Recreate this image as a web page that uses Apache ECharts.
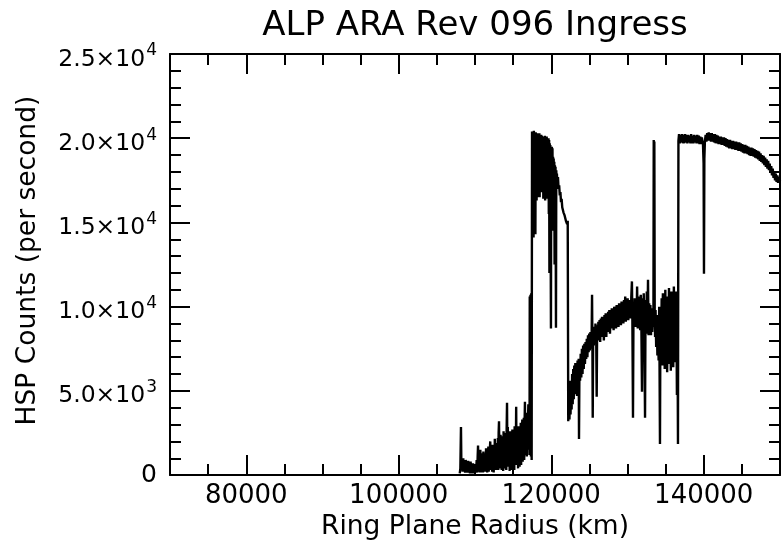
<!DOCTYPE html>
<html>
<head>
<meta charset="utf-8">
<script src="https://cdn.jsdelivr.net/npm/echarts@6/dist/echarts.min.js"></script>
<style>
  html, body { margin: 0; padding: 0; background: #fff; }
  #chart { width: 782px; height: 546px; }
</style>
</head>
<body>
<div id="chart"></div>
<script>
// ---- data (Ring Plane Radius km, HSP counts per second) ----
const titleText = 'ALP ARA Rev 096 Ingress';
const xAxisTitle = 'Ring Plane Radius (km)';
const yAxisTitle = 'HSP Counts (per second)';
const xMajorTicks = [80000, 100000, 120000, 140000];
const yTicks = [0, 5000, 10000, 15000, 20000, 25000];

const innerNoise = [
  [108000, 100], [108080, 400], [108160, 2860], [108220, 300], [108300, 900], [108380, 200],
  [108460, 1000], [108540, 300], [108620, 800], [108700, 150], [108780, 900], [108860, 250],
  [108940, 700], [109020, 150], [109100, 850], [109180, 200], [109260, 650], [109340, 100],
  [109420, 800], [109500, 250], [109580, 600], [109660, 100], [109740, 700], [109820, 200],
  [109900, 550], [109980, 100], [110060, 650], [110140, 200], [110220, 900], [110300, 150],
  [110350, 1100], [110400, 1750], [110450, 300], [110500, 900], [110550, 200], [110600, 1200],
  [110650, 150], [110700, 1500], [110750, 400], [110800, 1000], [110850, 150], [110900, 1300],
  [110950, 300], [111000, 1100], [111050, 150], [111100, 1400], [111150, 500], [111200, 1200],
  [111250, 200], [111300, 900], [111350, 1300], [111400, 200], [111450, 1600], [111500, 600],
  [111550, 1100], [111600, 150], [111650, 1400], [111700, 400], [111750, 1700], [111800, 200],
  [111850, 1200], [111900, 500], [111950, 1500], [112000, 2000], [112050, 300], [112100, 1600],
  [112150, 700], [112200, 1300], [112250, 200], [112300, 1800], [112350, 500], [112400, 1400],
  [112450, 150], [112500, 1700], [112550, 600], [112600, 2150], [112650, 300], [112700, 1500],
  [112750, 800], [112800, 1900], [112850, 300], [112900, 1600], [112950, 700], [113000, 2200],
  [113050, 300], [113100, 2500], [113150, 3200], [113200, 800], [113250, 2100], [113300, 400],
  [113350, 2400], [113400, 900], [113450, 1900], [113500, 300], [113550, 2300], [113600, 700],
  [113650, 2000], [113700, 250], [113750, 2600], [113800, 900], [113850, 1800], [113900, 400],
  [113950, 2500], [114000, 1000], [114050, 2200], [114100, 300], [114150, 2700], [114200, 4300],
  [114250, 800], [114300, 2850], [114350, 500], [114400, 2300], [114450, 1100], [114500, 2000],
  [114550, 250], [114600, 2600], [114650, 700], [114700, 2400], [114750, 300], [114800, 2100],
  [114850, 900], [114900, 2700], [114950, 400], [115000, 2300], [115050, 1000], [115100, 2500],
  [115150, 300], [115200, 2900], [115250, 800], [115300, 2600], [115350, 1200], [115400, 4050],
  [115450, 600], [115500, 2700], [115550, 1300], [115600, 2200], [115650, 400], [115700, 2900],
  [115750, 1100], [115800, 2400], [115850, 500], [115900, 2700], [115950, 1400], [116000, 3100],
  [116050, 600], [116100, 2600], [116150, 1500], [116200, 3300], [116250, 800], [116300, 2800],
  [116350, 1700], [116400, 3400], [116450, 900], [116500, 3000], [116550, 4350], [116600, 1200],
  [116650, 3100], [116700, 2000], [116750, 3500], [116800, 1100], [116850, 3700], [116900, 2200],
  [116950, 3300]
];

const bRingPeak = [
  [117000, 4200], [117050, 1500], [117100, 3800], [117150, 1200], [117180, 10600], [117230, 1500],
  [117280, 10700], [117330, 1100], [117380, 10800], [117430, 900], [117480, 20400], [117520, 15200],
  [117560, 20350], [117600, 14800], [117640, 20200], [117680, 14100], [117720, 20450], [117760, 15800],
  [117800, 20200], [117840, 16400], [117880, 20300], [117920, 14300], [117960, 20350], [118000, 16800],
  [118040, 20200], [118080, 16300], [118120, 20100], [118160, 17200], [118200, 20300], [118240, 16500],
  [118280, 20250], [118320, 16900], [118360, 20200], [118400, 17800], [118440, 20300], [118480, 16500],
  [118520, 20100], [118560, 17300], [118600, 20000], [118640, 18000], [118680, 20200], [118720, 16800],
  [118760, 20150], [118800, 17500], [118840, 20100], [118880, 18500], [118920, 20000], [118960, 16400],
  [119000, 19900], [119040, 17000], [119080, 20000], [119120, 18200], [119160, 20150], [119200, 16300],
  [119240, 20100], [119280, 17400], [119320, 20000], [119360, 17500], [119400, 20100], [119440, 16400],
  [119480, 19900], [119520, 17100], [119560, 19800], [119600, 17000], [119640, 20000], [119680, 15500],
  [119720, 19900], [119760, 12000], [119800, 19700], [119840, 16500], [119880, 19600], [119960, 8700],
  [120000, 19300], [120040, 15200], [120080, 19500], [120120, 14500], [120160, 19400], [120200, 16000],
  [120240, 18900], [120280, 15000], [120320, 18800], [120360, 16200], [120400, 18600], [120440, 12500],
  [120480, 18400], [120520, 15800], [120560, 18300], [120620, 8750], [120660, 18100], [120700, 17200],
  [120740, 17900], [120800, 17300], [120880, 17700], [120960, 17000], [121040, 17200], [121120, 16600],
  [121200, 16800], [121280, 16200], [121360, 16400], [121440, 15900], [121520, 16000], [121600, 15600],
  [121680, 15700], [121760, 15400], [121840, 15400], [121920, 15100], [122000, 15150], [122080, 14900],
  [122160, 15100], [122230, 3200]
];

const cassiniRamp = [
  [122320, 5200], [122390, 3300], [122460, 5600], [122530, 3600], [122600, 5400], [122670, 3900],
  [122740, 6000], [122810, 4200], [122880, 6300], [122950, 4500], [123020, 6500], [123090, 4800],
  [123160, 6650], [123230, 5000], [123300, 6400], [123380, 4700], [123450, 6800], [123530, 5300],
  [123600, 6900], [123640, 2150], [123700, 6600], [123780, 5600], [123860, 7200], [123940, 5800],
  [124020, 7500], [124100, 6000], [124180, 7700], [124260, 6300], [124340, 7800], [124420, 6600],
  [124500, 7900], [124580, 6900], [124660, 8100], [124740, 7000], [124820, 8300], [124900, 7300],
  [124980, 8400], [125060, 7400], [125140, 8500], [125220, 7500], [125300, 8400], [125350, 10700],
  [125400, 7600], [125440, 3400], [125500, 8600], [125580, 7700], [125660, 8800], [125740, 7900],
  [125800, 9000], [125900, 8000], [125960, 4650], [126020, 8900], [126100, 8000], [126180, 9100]
];

const aRingBand = [
  [126260, 8100], [126340, 9200], [126420, 7900], [126500, 9300], [126580, 8200], [126660, 9400],
  [126740, 8300], [126820, 9200], [126900, 8000], [126980, 9500], [127060, 8400], [127140, 9600],
  [127220, 8200], [127300, 9400], [127380, 8500], [127460, 9700], [127540, 8600], [127620, 9800],
  [127700, 8400], [127780, 9600], [127860, 8700], [127940, 9900], [128020, 8800], [128100, 9700],
  [128180, 8600], [128260, 10000], [128340, 8900], [128420, 9800], [128500, 8700], [128580, 10100],
  [128660, 9000], [128740, 9900], [128820, 8800], [128900, 10200], [128980, 9100], [129060, 10000],
  [129140, 8900], [129220, 10300], [129300, 9200], [129380, 10100], [129460, 9000], [129540, 10400],
  [129620, 9300], [129700, 10600], [129780, 9100], [129860, 10300], [129940, 9400], [130020, 10500],
  [130100, 9200], [130180, 10400], [130260, 9500], [130340, 10200], [130420, 9300], [130500, 10600],
  [130580, 11500], [130640, 9200], [130720, 3400], [130790, 10200], [130860, 9000], [130940, 10500],
  [131020, 8800], [131100, 10400], [131180, 9100], [131260, 11200], [131340, 8700], [131420, 10600],
  [131500, 9000], [131580, 10300], [131660, 8600], [131740, 10700], [131820, 8900], [131900, 4950],
  [131970, 10500], [132050, 8500], [132130, 10800], [132210, 8200], [132300, 3400], [132370, 10400],
  [132450, 8400], [132530, 10900], [132610, 8700], [132690, 11600], [132760, 8300], [132840, 10200],
  [132920, 8600], [133000, 10100], [133080, 8300], [133160, 9900], [133240, 8500], [133320, 9600],
  [133400, 8800], [133440, 19900], [133480, 12000], [133520, 19800], [133570, 9300], [133620, 8200],
  [133680, 9800], [133760, 7600], [133840, 9500], [133920, 7100], [134000, 9200], [134080, 6800],
  [134160, 10000], [134260, 1850], [134320, 9600], [134400, 7000], [134480, 10500], [134560, 6500],
  [134640, 10800], [134720, 7200], [134800, 10300], [134880, 6300], [134960, 11000], [135040, 6800],
  [135120, 10600], [135200, 6100], [135280, 10400], [135360, 7400], [135440, 11100], [135520, 6600],
  [135600, 10700], [135680, 6200], [135760, 10900], [135840, 7000], [135920, 10500], [136000, 6400],
  [136080, 11200], [136160, 7100], [136240, 10600], [136320, 6700], [136400, 10900], [136480, 4750],
  [136550, 9500], [136620, 1850], [136680, 19850]
];

const outerPlateau = [
  [136760, 20250], [136850, 19700], [136950, 20200], [137050, 19750], [137150, 20250], [137250, 19700],
  [137350, 20200], [137450, 19700], [137550, 20250], [137650, 19750], [137750, 20200], [137850, 19700],
  [137950, 20200], [138050, 19750], [138150, 20150], [138250, 19700], [138350, 20250], [138450, 19700],
  [138550, 20150], [138650, 19700], [138750, 20200], [138850, 19750], [138950, 20150], [139050, 19700],
  [139150, 20200], [139250, 19700], [139350, 20150], [139450, 19650], [139550, 20100], [139650, 19650],
  [139750, 20050], [139900, 19650], [139980, 18500], [140030, 11950], [140080, 18800], [140150, 19800],
  [140250, 20200], [140350, 19800], [140450, 20300], [140550, 19850], [140650, 20350], [140750, 19850],
  [140850, 20300], [140950, 19800], [141050, 20300], [141150, 19800], [141250, 20250], [141350, 19750],
  [141450, 20250], [141550, 19700], [141650, 20200], [141750, 19700], [141850, 20150], [141950, 19650],
  [142050, 20100], [142150, 19650], [142250, 20100], [142350, 19600], [142450, 20050], [142550, 19600],
  [142650, 20050], [142750, 19550], [142850, 20000], [142950, 19500], [143050, 19950], [143150, 19450],
  [143250, 19900], [143350, 19400], [143450, 19900], [143550, 19400], [143650, 19850], [143750, 19350],
  [143850, 19850], [143950, 19350], [144050, 19800], [144150, 19300], [144250, 19800], [144350, 19300],
  [144450, 19750], [144550, 19250], [144650, 19750], [144750, 19250], [144850, 19700], [144950, 19200],
  [145050, 19650], [145150, 19150], [145250, 19600], [145350, 19100], [145450, 19600], [145550, 19100],
  [145650, 19550], [145750, 19050], [145850, 19500], [145950, 19000], [146050, 19450], [146150, 18950],
  [146250, 19450], [146350, 18950], [146450, 19400], [146550, 18900], [146650, 19350], [146750, 18850],
  [146850, 19300], [146950, 18800], [147050, 19250], [147150, 18750], [147250, 19200], [147350, 18650],
  [147450, 19100], [147550, 18600], [147650, 19000], [147750, 18500], [147850, 18950], [147950, 18400],
  [148050, 18850], [148150, 18300], [148250, 18750], [148350, 18200], [148450, 18650], [148550, 18100],
  [148650, 18500], [148750, 17950], [148850, 18350], [148950, 17800], [149050, 18200], [149150, 17650],
  [149250, 18050], [149350, 17500], [149450, 17900], [149550, 17400], [149650, 17800], [149750, 17350],
  [149850, 17700], [150000, 17450]
];

const seriesData = [].concat(innerNoise, bRingPeak, cassiniRamp, aRingBand, outerPlateau);

// ---- chart ----
const FONT = 'DejaVu Sans';
const chart = echarts.init(document.getElementById('chart'), null, { renderer: 'canvas' });

function yFmt(v) {
  if (v === 0) return '{z|0}';
  const e = Math.floor(Math.log10(v) + 1e-9);
  const m = v / Math.pow(10, e);
  return '{m|' + m.toFixed(1) + '×10}{sup|' + e + '}';
}

const frame = { show: true, lineStyle: { color: '#000', width: 2 } };
const majorTick = { show: true, inside: true, length: 20, lineStyle: { color: '#000', width: 2 } };
const minorTick = { show: true, inside: true, length: 11, lineStyle: { color: '#000', width: 2 } };

const xCommon = { type: 'value', min: 70000, max: 150000, splitLine: { show: false } };

chart.setOption({
  animation: false,
  backgroundColor: '#fff',
  grid: { left: 170, right: 2, top: 54, bottom: 64, containLabel: false },
  graphic: [{
    type: 'text', x: 475, y: 26,
    style: { text: titleText, font: '34px "' + FONT + '"', fill: '#000', textAlign: 'center', textVerticalAlign: 'middle' }
  }],
  xAxis: [
    Object.assign({}, xCommon, {
      position: 'bottom',
      axisLine: frame,
      axisTick: Object.assign({}, majorTick, { customValues: xMajorTicks }),
      axisLabel: { customValues: xMajorTicks, formatter: function (v) { return String(v); },
        fontSize: 26, fontFamily: FONT, color: '#000', margin: 8 },
      name: xAxisTitle, nameLocation: 'middle', nameGap: 29,
      nameTextStyle: { fontSize: 26.5, fontFamily: FONT, color: '#000', verticalAlign: 'top' }
    }),
    Object.assign({}, xCommon, {
      position: 'bottom', interval: 5000,
      axisLine: { show: false }, axisTick: minorTick, axisLabel: { show: false }
    }),
    Object.assign({}, xCommon, {
      position: 'top',
      axisLine: frame,
      axisTick: Object.assign({}, majorTick, { customValues: xMajorTicks }),
      axisLabel: { show: false }
    }),
    Object.assign({}, xCommon, {
      position: 'top', interval: 5000,
      axisLine: { show: false }, axisTick: minorTick, axisLabel: { show: false }
    })
  ],
  yAxis: [
    {
      type: 'value', position: 'left', min: 0, max: 25000, interval: 5000,
      splitLine: { show: false },
      axisLine: frame, axisTick: majorTick,
      minorTick: { show: true, splitNumber: 5, length: 11, lineStyle: { color: '#000', width: 2 } },
      axisLabel: {
        formatter: yFmt, color: '#000', margin: 13,
        rich: {
          z: { fontSize: 25, fontFamily: FONT, color: '#000' },
          m: { fontSize: 23.5, fontFamily: FONT, color: '#000', padding: [11, 0, 0, 0] },
          sup: { fontSize: 17, fontFamily: FONT, color: '#000', verticalAlign: 'top', padding: [6, 0, 0, 1] }
        }
      },
      name: yAxisTitle, nameLocation: 'middle', nameGap: 128, nameRotate: 90,
      nameTextStyle: { fontSize: 26.5, fontFamily: FONT, color: '#000', padding: [0, 0, 0, 8] }
    },
    {
      type: 'value', position: 'right', min: 0, max: 25000, interval: 5000,
      splitLine: { show: false },
      axisLine: frame, axisTick: majorTick,
      minorTick: { show: true, splitNumber: 5, length: 11, lineStyle: { color: '#000', width: 2 } },
      axisLabel: { show: false }
    }
  ],
  series: [{
    type: 'line',
    xAxisIndex: 0, yAxisIndex: 0,
    data: seriesData,
    showSymbol: false, symbol: 'none',
    sampling: null,
    lineStyle: { color: '#000', width: 2.4 },
    silent: true
  }]
});
</script>
</body>
</html>
